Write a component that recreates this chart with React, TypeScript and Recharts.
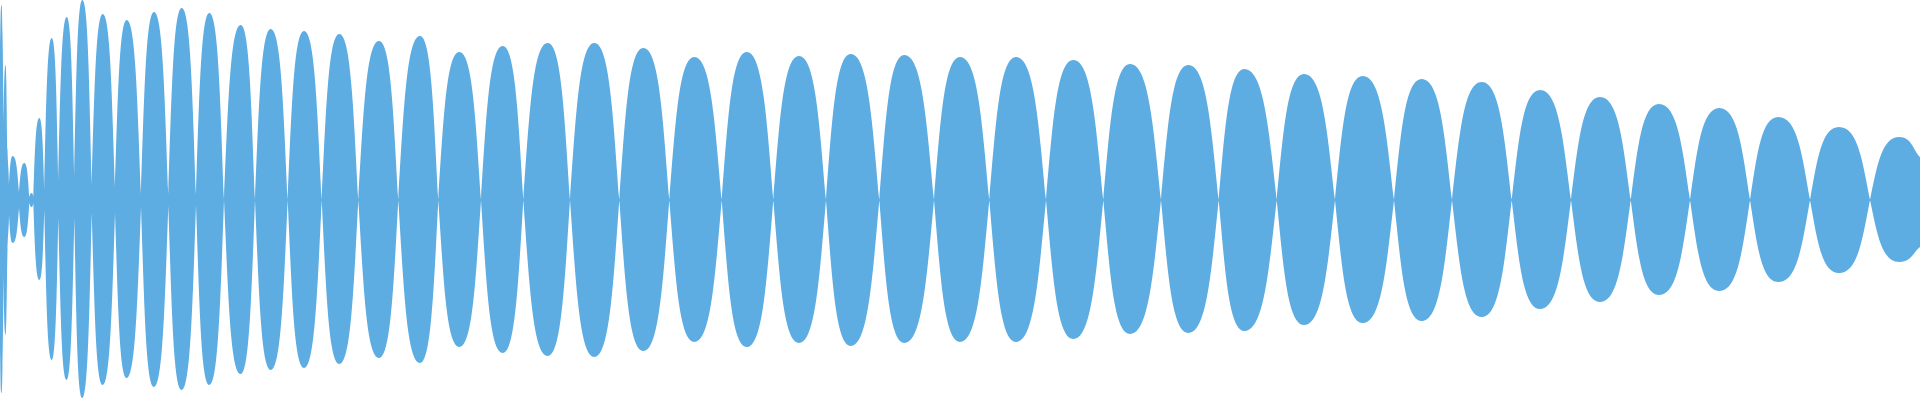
import React from "react";
import { AreaChart, Area, XAxis, YAxis, ReferenceLine } from "recharts";

// time positions (arbitrary units across the recording)
const times: number[] = [
  0, 1.3, 2.5, 3.5, 5.5, 7.5, 9, 12.7, 19, 24.3, 29.3, 31.7, 33.3, 39.3, 44.3,
  51.7, 58.3, 66.7, 74.3, 82.3, 91.7, 102.7, 115, 126.7, 141, 154, 168.3, 181.7,
  196, 209.3, 224, 240.7, 255, 270.7, 287.7, 304, 321.7, 339.3, 358.3, 379,
  398.3, 420, 438.3, 459.3, 481, 502.7, 523.3, 547.7, 570, 594.3, 619.3, 643.3,
  669.3, 694.3, 721.7, 746.7, 773.3, 799, 826, 850.7, 879.3, 904.3, 934, 960,
  989.3, 1016, 1046, 1073.3, 1103.3, 1130, 1161, 1188.3, 1218.7, 1244.3, 1276.7,
  1304, 1335, 1362.7, 1394, 1421.7, 1452, 1481.7, 1511.7, 1540, 1571, 1600,
  1630.7, 1659, 1690, 1719.3, 1750, 1778.3, 1810, 1839, 1870, 1899.3, 1920,
];

// upper envelope (positive amplitude)
const upperEnvelope: number[] = [
  152, 195, 167, 75, 135, 50, 15, 44, 8, 37, 3, 7, 3, 82, 10,
  162, 20, 183, 24, 200, 15, 186, 13, 180, 6, 188, 6, 192,
  5, 187, 0, 175, 0, 171, 0, 169, 0, 166, 0, 159,
  0, 164, 0, 148, 0, 154, 0, 157, 0, 157, 0, 152,
  0, 143, 0, 148, 0, 144, 0, 146, 0, 145, 0, 143,
  0, 143, 0, 140, 0, 136, 0, 135, 0, 131, 0,
  126, 0, 124, 0, 121, 0, 118, 0, 110, 0, 103,
  0, 96, 0, 92, 0, 83, 0, 73, 0, 63, 43,
];

// lower envelope (magnitude of negative amplitude)
const lowerEnvelope: number[] = [
  150, 193, 167, 75, 135, 50, 15, 43, 8, 37, 3, 7, 3, 80, 10,
  160, 18, 180, 18, 198, 13, 185, 13, 178, 7, 187, 6, 190,
  5, 185, 0, 174, 0, 170, 0, 168, 0, 164, 0, 158,
  0, 163, 0, 147, 0, 153, 0, 156, 0, 157, 0, 151,
  0, 142, 0, 147, 0, 143, 0, 146, 0, 143, 0, 142,
  0, 142, 0, 139, 0, 134, 0, 133, 0, 131, 0,
  125, 0, 123, 0, 121, 0, 117, 0, 109, 0, 102,
  0, 95, 0, 91, 0, 82, 0, 73, 0, 62, 47,
];

const data = times.map((t, i) => ({ t, amp: [-lowerEnvelope[i], upperEnvelope[i]] }));

const COLOR = "#5DADE2";

// control-point factors for the lobe outline
const CUSP_X = 0.25;
const CUSP_Y = 0.55;
const PEAK_X = 0.6;

type Pt = [number, number];

function drawWave(ctx: any, pts: Pt[], smoothAtMin: boolean, connect: boolean) {
  const n = pts.length;
  if (!n) return;
  if (connect) ctx.lineTo(pts[0][0], pts[0][1]);
  else ctx.moveTo(pts[0][0], pts[0][1]);
  const kind = (i: number): string => {
    if (i === 0 || i === n - 1) return "n";
    const y = pts[i][1];
    const yp = pts[i - 1][1];
    const yn = pts[i + 1][1];
    const isMin = y <= yp && y <= yn && (y < yp || y < yn);
    const isMax = y >= yp && y >= yn && (y > yp || y > yn);
    if (isMin) return smoothAtMin ? "s" : "c";
    if (isMax) return smoothAtMin ? "c" : "s";
    return "n";
  };
  const slope = (i: number): number => {
    const a = pts[Math.max(0, i - 1)];
    const b = pts[Math.min(n - 1, i + 1)];
    const dx = b[0] - a[0];
    return dx === 0 ? 0 : (b[1] - a[1]) / dx;
  };
  for (let i = 0; i < n - 1; i++) {
    const [ax, ay] = pts[i];
    const [bx, by] = pts[i + 1];
    const dx = bx - ax;
    const dy = by - ay;
    const ka = kind(i);
    const kb = kind(i + 1);
    let c1x: number, c1y: number, c2x: number, c2y: number;
    if (ka === "s") {
      c1x = ax + dx * PEAK_X;
      c1y = ay;
    } else if (ka === "c") {
      c1x = ax + dx * CUSP_X;
      c1y = ay + dy * CUSP_Y;
    } else {
      c1x = ax + dx / 3;
      c1y = ay + (slope(i) * dx) / 3;
    }
    if (kb === "s") {
      c2x = bx - dx * PEAK_X;
      c2y = by;
    } else if (kb === "c") {
      c2x = bx - dx * CUSP_X;
      c2y = by - dy * CUSP_Y;
    } else {
      c2x = bx - dx / 3;
      c2y = by - (slope(i + 1) * dx) / 3;
    }
    ctx.bezierCurveTo(c1x, c1y, c2x, c2y, bx, by);
  }
}

function waveCurve(context: any) {
  let inArea = false;
  let line = 0;
  let pts: Pt[] = [];
  return {
    areaStart() {
      inArea = true;
      line = 0;
    },
    areaEnd() {
      inArea = false;
    },
    lineStart() {
      pts = [];
    },
    lineEnd() {
      const second = inArea && line === 1;
      drawWave(context, pts, !second, second);
      if (second) context.closePath();
      if (inArea) line = 1 - line;
    },
    point(x: number, y: number) {
      pts.push([+x, +y]);
    },
  };
}

export default function App() {
  return (
    <div style={{ position: "absolute", left: 0, top: 0, width: 1920, height: 400, background: "#fff" }}>
      <AreaChart width={1920} height={400} data={data} margin={{ top: 0, right: 0, bottom: 0, left: 0 }}>
        <XAxis dataKey="t" type="number" domain={[0, 1920]} hide />
        <YAxis type="number" domain={[-200, 200]} hide allowDataOverflow />
        <ReferenceLine y={0} stroke={COLOR} strokeWidth={2} />
        <Area
          dataKey="amp"
          type={waveCurve as any}
          stroke="none"
          fill={COLOR}
          fillOpacity={1}
          dot={false}
          activeDot={false}
          isAnimationActive={false}
        />
      </AreaChart>
    </div>
  );
}
